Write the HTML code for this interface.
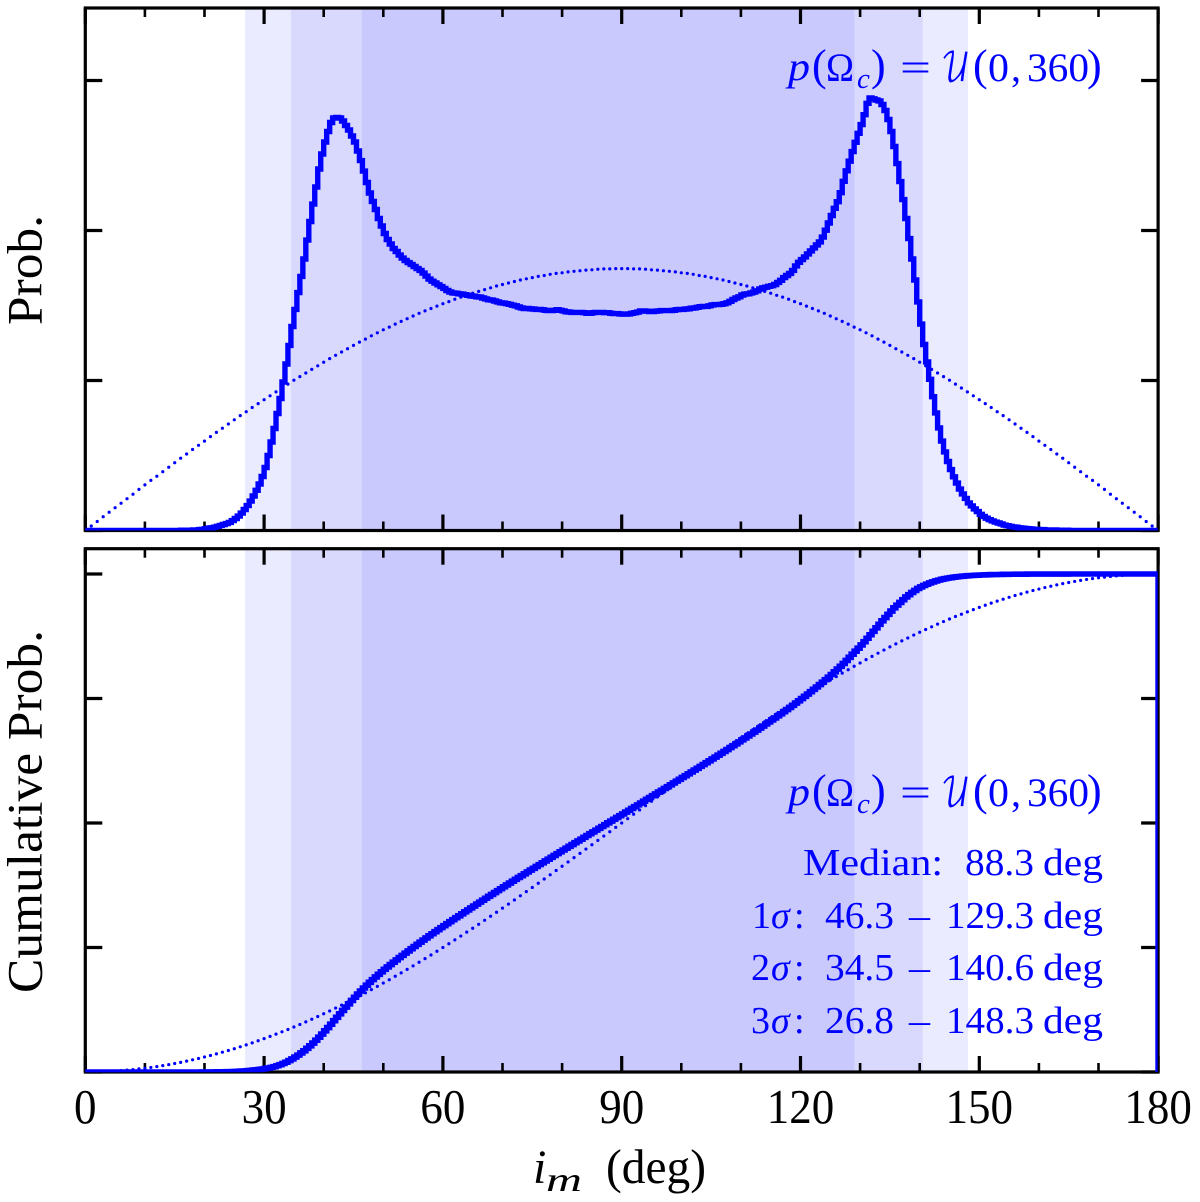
<!DOCTYPE html>
<html lang="en">
<head>
<meta charset="utf-8">
<title>Inclination probability chart</title>
<style>
html,body{margin:0;padding:0;background:#fff;}
svg{display:block;}
text{font-family:"Liberation Serif",serif;}
.t{fill:#000;}
.b{fill:#0000ff;}
.i{font-style:italic;}
.u{font-family:"DejaVu Math TeX Gyre","DejaVu Serif","Liberation Serif",serif;}
</style>
</head>
<body>
<svg id="chart" width="1200" height="1202" viewBox="0 0 1200 1202" xmlns="http://www.w3.org/2000/svg">
<defs>
<clipPath id="clipTop"><rect x="85.3" y="8" width="1072.4" height="522.5"/></clipPath>
<clipPath id="clipBottom"><rect x="85.3" y="548.7" width="1072.4" height="523.6"/></clipPath>
</defs>
<g id="bands"></g>
<g id="axes"></g>
<g id="dotsTop" clip-path="url(#clipTop)"></g>
<g id="dotsBottom" clip-path="url(#clipBottom)"></g>
<g id="curves"></g>
<g id="xLabels"></g>

<text class="t" transform="translate(41.7,325) rotate(-90)" font-size="50" textLength="110" lengthAdjust="spacingAndGlyphs">Prob.</text>
<text class="t" transform="translate(41.7,993) rotate(-90)" font-size="50" textLength="363" lengthAdjust="spacingAndGlyphs">Cumulative Prob.</text>

<g class="t">
<text class="t i" x="533" y="1183" font-size="48">i</text>
<text class="t i" x="546" y="1191" font-size="34" textLength="36" lengthAdjust="spacingAndGlyphs">m</text>
<text class="t" x="606" y="1183" font-size="49" textLength="100" lengthAdjust="spacingAndGlyphs">(deg)</text>
</g>

<g font-size="40">
<text class="b i" x="788" y="80" textLength="22" lengthAdjust="spacingAndGlyphs">p</text>
<text class="b" x="812" y="80" font-size="44">(</text>
<text class="b" x="826" y="81" textLength="28" lengthAdjust="spacingAndGlyphs">Ω</text>
<text class="b i" x="857" y="88" font-size="29">c</text>
<text class="b" x="871" y="80" font-size="44">)</text>
<text class="b" x="900" y="81" textLength="31" lengthAdjust="spacingAndGlyphs">=</text>
<text class="b u" x="941" y="81" textLength="29" lengthAdjust="spacingAndGlyphs">𝒰</text>
<text class="b" x="973" y="80" font-size="44">(</text>
<text class="b" x="988" y="81" textLength="21" lengthAdjust="spacingAndGlyphs">0</text>
<text class="b" x="1011" y="81">,</text>
<text class="b" x="1027" y="81" textLength="62" lengthAdjust="spacingAndGlyphs">360</text>
<text class="b" x="1087" y="80" font-size="44">)</text>
</g>

<g font-size="40">
<text class="b i" x="788" y="805" textLength="22" lengthAdjust="spacingAndGlyphs">p</text>
<text class="b" x="812" y="805" font-size="44">(</text>
<text class="b" x="826" y="806" textLength="28" lengthAdjust="spacingAndGlyphs">Ω</text>
<text class="b i" x="857" y="813" font-size="29">c</text>
<text class="b" x="871" y="805" font-size="44">)</text>
<text class="b" x="900" y="806" textLength="31" lengthAdjust="spacingAndGlyphs">=</text>
<text class="b u" x="941" y="806" textLength="29" lengthAdjust="spacingAndGlyphs">𝒰</text>
<text class="b" x="973" y="805" font-size="44">(</text>
<text class="b" x="988" y="806" textLength="21" lengthAdjust="spacingAndGlyphs">0</text>
<text class="b" x="1011" y="806">,</text>
<text class="b" x="1027" y="806" textLength="62" lengthAdjust="spacingAndGlyphs">360</text>
<text class="b" x="1087" y="805" font-size="44">)</text>
</g>

<g font-size="38">
<text class="b" x="803" y="875" textLength="140" lengthAdjust="spacingAndGlyphs">Median:</text>
<text class="b" x="965" y="875" textLength="69" lengthAdjust="spacingAndGlyphs">88.3</text>
<text class="b" x="1043" y="875" textLength="60" lengthAdjust="spacingAndGlyphs">deg</text>
</g>
<g font-size="38">
<text class="b" x="752" y="928">1</text>
<text class="b i" x="771" y="928">σ</text>
<text class="b" x="794" y="928">:</text>
<text class="b" x="825" y="928" textLength="69" lengthAdjust="spacingAndGlyphs">46.3</text>
<text class="b" x="909" y="928" textLength="21" lengthAdjust="spacingAndGlyphs">–</text>
<text class="b" x="946" y="928" textLength="88" lengthAdjust="spacingAndGlyphs">129.3</text>
<text class="b" x="1043" y="928" textLength="60" lengthAdjust="spacingAndGlyphs">deg</text>
</g>
<g font-size="38">
<text class="b" x="751" y="980">2</text>
<text class="b i" x="771" y="980">σ</text>
<text class="b" x="794" y="980">:</text>
<text class="b" x="825" y="980" textLength="69" lengthAdjust="spacingAndGlyphs">34.5</text>
<text class="b" x="909" y="980" textLength="21" lengthAdjust="spacingAndGlyphs">–</text>
<text class="b" x="946" y="980" textLength="88" lengthAdjust="spacingAndGlyphs">140.6</text>
<text class="b" x="1043" y="980" textLength="60" lengthAdjust="spacingAndGlyphs">deg</text>
</g>
<g font-size="38">
<text class="b" x="751" y="1033">3</text>
<text class="b i" x="771" y="1033">σ</text>
<text class="b" x="794" y="1033">:</text>
<text class="b" x="825" y="1033" textLength="69" lengthAdjust="spacingAndGlyphs">26.8</text>
<text class="b" x="909" y="1033" textLength="21" lengthAdjust="spacingAndGlyphs">–</text>
<text class="b" x="946" y="1033" textLength="88" lengthAdjust="spacingAndGlyphs">148.3</text>
<text class="b" x="1043" y="1033" textLength="60" lengthAdjust="spacingAndGlyphs">deg</text>
</g>
</svg>

<script>
// Data. Probability values are in units of 1e-3 per degree.
// Histograms use half-degree bins.
const xMajorTicks = [0, 30, 60, 90, 120, 150, 180];
const xMinorTicks = [10, 20, 40, 50, 70, 80, 100, 110, 130, 140, 160, 170];
const xTickLabels = ['0', '30', '60', '90', '120', '150', '180'];
const yTicksTop = [0, 5, 10, 15];
const yTicksBottom = [0, 0.25, 0.5, 0.75, 1];
const sigmaLow = [26.8, 34.5, 46.4];
const sigmaHigh = [148.1, 140.5, 129.05];

const pdfHist = [
0,0, 0,0, 0,0, 0,0, 0,0, 0,0, 0,0, 0,0, 0,0, 0,0,
0,0, 0,0, 0,0, 0,0, 0,0, 0,0, .01,.01, .01,.01, .02,.02, .03,.04,
.06,.08, .09,.11, .14,.17, .20,.23, .27,.33, .40,.48, .58,.70, .83,.98, 1.15,1.34, 1.55,1.80,
2.10,2.50, 2.95,3.40, 3.90,4.40, 4.95,5.55, 6.17,6.80, 7.37,7.93, 8.47,9.05, 9.68,10.30, 10.88,11.45, 12.05,12.55,
12.95,13.30, 13.60,13.75, 13.77,13.75, 13.65,13.50, 13.35,13.15, 12.95,12.65, 12.33,11.98, 11.60,11.25, 10.97,10.70, 10.40,10.15,
9.90,9.70, 9.55,9.40, 9.30,9.18, 9.08,9.00, 8.93,8.87, 8.80,8.73, 8.67,8.58, 8.48,8.38, 8.31,8.25, 8.19,8.13,
8.07,8.00, 7.95,7.92, 7.91,7.89, 7.88,7.86, 7.84,7.82, 7.81,7.79, 7.78,7.75, 7.72,7.69, 7.68,7.65, 7.62,7.59,
7.58,7.56, 7.54,7.51, 7.49,7.45, 7.42,7.40, 7.40,7.39, 7.38,7.37, 7.37,7.36, 7.34,7.33, 7.33,7.34, 7.36,7.34,
7.32,7.29, 7.28,7.27, 7.27,7.27, 7.27,7.26, 7.24,7.24, 7.26,7.27, 7.27,7.27, 7.26,7.26, 7.24,7.23, 7.23,7.22,
7.21,7.21, 7.22,7.24, 7.26,7.28, 7.32,7.32, 7.31,7.30, 7.30,7.31, 7.32,7.33, 7.33,7.33, 7.33,7.34, 7.36,7.37,
7.37,7.38, 7.39,7.41, 7.42,7.44, 7.46,7.47, 7.47,7.49, 7.52,7.53, 7.53,7.54, 7.56,7.59, 7.64,7.70, 7.75,7.79,
7.85,7.88, 7.89,7.92, 7.95,7.99, 8.05,8.09, 8.11,8.14, 8.16,8.20, 8.27,8.34, 8.43,8.50, 8.57,8.67, 8.82,8.94,
9.03,9.12, 9.22,9.32, 9.42,9.52, 9.62,9.78, 10.01,10.25, 10.50,10.74, 10.96,11.26, 11.64,11.99, 12.31,12.63, 12.94,13.24,
13.53,13.86, 14.24,14.42, 14.39,14.35, 14.32,14.20, 14.00,13.70, 13.30,12.80, 12.23,11.63, 11.03,10.40, 9.73,9.05, 8.35,7.62,
6.88,6.20, 5.62,5.04, 4.46,3.92, 3.42,2.98, 2.62,2.30, 2.03,1.79, 1.58,1.38, 1.22,1.07, .92,.82, .72,.63,
.54,.47, .41,.36, .32,.28, .25,.22, .18,.16, .14,.12, .11,.09, .08,.07, .06,.05, .04,.04,
.03,.03, .02,.02, .02,.02, .01,.01, .01,.01, 0,0, 0,0, 0,0, 0,0, 0,0,
0,0, 0,0, 0,0, 0,0, 0,0, 0,0, 0,0, 0,0, 0,0, 0,0
];

const cdfHist = [
0,0, 0,0, 0,0, 0,0, 0,0, 0,0, 0,0, 0,0, 0,0, 0,0,
0,0, 0,0, 0,0, 0,0, 0,0, 0,0, 0,0, 0,0, 0,0, 0,.0001,
.0001,.0001, .0001,.0002, .0003,.0004, .0005,.0006, .0007,.0009, .0011,.0014, .0018,.0022, .0027,.0032, .0038,.0044, .0051,.0059,
.0069,.0079, .0093,.0107, .0126,.0146, .0171,.0197, .0229,.0262, .0300,.0339, .0382,.0426, .0476,.0526, .0582,.0638, .0699,.0761,
.0827,.0893, .0961,.1030, .1099,.1168, .1236,.1304, .1370,.1437, .1501,.1565, .1626,.1687, .1744,.1801, .1855,.1909, .1961,.2012,
.2061,.2110, .2158,.2205, .2251,.2297, .2342,.2387, .2432,.2476, .2520,.2564, .2607,.2650, .2692,.2734, .2776,.2817, .2858,.2899,
.2939,.2979, .3019,.3058, .3098,.3137, .3177,.3216, .3255,.3294, .3333,.3372, .3411,.3450, .3489,.3527, .3566,.3604, .3642,.3680,
.3718,.3756, .3794,.3831, .3869,.3906, .3943,.3980, .4017,.4054, .4091,.4127, .4164,.4201, .4238,.4274, .4311,.4348, .4385,.4421,
.4458,.4494, .4531,.4567, .4604,.4640, .4676,.4712, .4749,.4785, .4821,.4857, .4894,.4930, .4967,.5003, .5039,.5075, .5111,.5147,
.5183,.5219, .5255,.5292, .5328,.5364, .5401,.5438, .5475,.5511, .5548,.5584, .5621,.5657, .5694,.5730, .5767,.5804, .5841,.5877,
.5914,.5951, .5988,.6025, .6062,.6099, .6137,.6174, .6212,.6249, .6287,.6324, .6362,.6399, .6437,.6475, .6514,.6552, .6591,.6629,
.6669,.6708, .6748,.6787, .6827,.6867, .6907,.6947, .6988,.7029, .7070,.7110, .7152,.7193, .7236,.7278, .7321,.7364, .7409,.7453,
.7499,.7544, .7590,.7636, .7684,.7731, .7780,.7828, .7879,.7929, .7982,.8035, .8091,.8146, .8205,.8264, .8327,.8389, .8450,.8510,
.8575,.8640, .8710,.8780, .8850,.8920, .8990,.9060, .9125,.9190, .9255,.9320, .9375,.9430, .9485,.9540, .9585,.9630, .9670,.9710,
.9740,.9770, .9795,.9820, .9840,.9860, .9877,.9893, .9905,.9917, .9927,.9936, .9943,.9950, .9956,.9961, .9966,.9970, .9974,.9977,
.9980,.9982, .9984,.9986, .9988,.9989, .9990,.9992, .9993,.9994, .9995,.9995, .9996,.9996, .9997,.9997, .9998,.9998, .9998,.9998,
.9999,.9999, .9999,.9999, .9999,.9999, .9999,.9999, .9999,.9999, 1,1, 1,1, 1,1, 1,1, 1,1,
1,1, 1,1, 1,1, 1,1, 1,1, 1,1, 1,1, 1,1, 1,1, 1,1
];

const pdfIsotropic = [
0,0.15,0.30,0.46,0.61,0.76,0.91,1.06,1.21,1.37,1.52,1.67,1.81,1.96,2.11,2.26,2.41,2.55,2.70,2.84,
2.98,3.13,3.27,3.41,3.55,3.69,3.83,3.96,4.10,4.23,4.36,4.49,4.62,4.75,4.88,5.01,5.13,5.25,5.37,5.49,
5.61,5.73,5.84,5.95,6.06,6.17,6.28,6.38,6.49,6.59,6.69,6.78,6.88,6.97,7.06,7.15,7.24,7.32,7.40,7.48,
7.56,7.63,7.71,7.78,7.84,7.91,7.97,8.03,8.09,8.15,8.20,8.25,8.30,8.35,8.39,8.43,8.47,8.50,8.54,8.57,
8.59,8.62,8.64,8.66,8.68,8.69,8.71,8.72,8.72,8.73,8.73,8.73,8.72,8.72,8.71,8.69,8.68,8.66,8.64,8.62,
8.59,8.57,8.54,8.50,8.47,8.43,8.39,8.35,8.30,8.25,8.20,8.15,8.09,8.03,7.97,7.91,7.84,7.78,7.71,7.63,
7.56,7.48,7.40,7.32,7.24,7.15,7.06,6.97,6.88,6.78,6.69,6.59,6.49,6.38,6.28,6.17,6.06,5.95,5.84,5.73,
5.61,5.49,5.37,5.25,5.13,5.01,4.88,4.75,4.62,4.49,4.36,4.23,4.10,3.96,3.83,3.69,3.55,3.41,3.27,3.13,
2.98,2.84,2.70,2.55,2.41,2.26,2.11,1.96,1.81,1.67,1.52,1.37,1.21,1.06,0.91,0.76,0.61,0.46,0.30,0.15,0
];

const cdfIsotropic = [
0,0.0001,0.0003,0.0007,0.0012,0.0019,0.0027,0.0037,0.0049,0.0062,0.0076,0.0092,0.0109,0.0128,0.0149,0.0170,0.0194,0.0218,0.0245,0.0272,
0.0302,0.0332,0.0364,0.0398,0.0432,0.0468,0.0506,0.0545,0.0585,0.0627,0.0670,0.0715,0.0760,0.0807,0.0854,0.0904,0.0955,0.1007,0.1060,0.1114,
0.1170,0.1226,0.1284,0.1343,0.1403,0.1464,0.1527,0.1590,0.1654,0.1719,0.1786,0.1853,0.1922,0.1991,0.2061,0.2132,0.2204,0.2277,0.2350,0.2425,
0.2500,0.2576,0.2653,0.2730,0.2808,0.2887,0.2966,0.3046,0.3127,0.3208,0.3290,0.3372,0.3455,0.3538,0.3622,0.3706,0.3790,0.3875,0.3960,0.4046,
0.4132,0.4218,0.4304,0.4391,0.4477,0.4564,0.4651,0.4738,0.4825,0.4913,0.5000,0.5087,0.5175,0.5262,0.5349,0.5436,0.5523,0.5609,0.5696,0.5782,
0.5868,0.5954,0.6040,0.6125,0.6210,0.6294,0.6378,0.6462,0.6545,0.6628,0.6710,0.6792,0.6873,0.6954,0.7034,0.7113,0.7192,0.7270,0.7347,0.7424,
0.7500,0.7575,0.7650,0.7723,0.7796,0.7868,0.7939,0.8009,0.8078,0.8147,0.8214,0.8281,0.8346,0.8410,0.8473,0.8536,0.8597,0.8657,0.8716,0.8774,
0.8830,0.8886,0.8940,0.8993,0.9045,0.9096,0.9146,0.9193,0.9240,0.9285,0.9330,0.9373,0.9415,0.9455,0.9494,0.9532,0.9568,0.9602,0.9636,0.9668,
0.9698,0.9728,0.9755,0.9782,0.9806,0.9830,0.9851,0.9872,0.9891,0.9908,0.9924,0.9938,0.9951,0.9963,0.9973,0.9981,0.9988,0.9993,0.9997,0.9999,1
];

const NS = 'http://www.w3.org/2000/svg';
const X0 = 85.3, XSCALE = 5.96;
const TOP_T = 8, TOP_B = 530.5, BOT_T = 548.7, BOT_B = 1072;
const X1 = X0 + 180 * XSCALE;
function xPos(deg) { return X0 + deg * XSCALE; }
function yTop(v) { return TOP_B - v * 30; }
function yBottom(v) { return BOT_B - v * 498; }
function make(tag, attrs) {
  const el = document.createElementNS(NS, tag);
  for (const k in attrs) el.setAttribute(k, attrs[k]);
  return el;
}

const bandColors = ['#ebebff', '#d9d9fe', '#c9c9fd'];
const bandsGroup = document.getElementById('bands');
const panels = [[TOP_T, TOP_B], [BOT_T, BOT_B]];
panels.forEach(function (panel) {
  sigmaLow.forEach(function (lo, i) {
    const el = make('rect', { x: xPos(lo), y: panel[0], width: xPos(sigmaHigh[i]) - xPos(lo), height: panel[1] - panel[0], fill: bandColors[i] });
    
    
    bandsGroup.appendChild(el);
  });
});

const axesGroup = document.getElementById('axes');
function xTick(deg, len, w, panel) {
  const x = xPos(deg);
  const a = make('line', { x1: x, x2: x, y1: panel[0], y2: panel[0] + len, stroke: '#000', 'stroke-width': w });
  
  
  axesGroup.appendChild(a);
  const b = make('line', { x1: x, x2: x, y1: panel[1], y2: panel[1] - len, stroke: '#000', 'stroke-width': w });
  
  
  axesGroup.appendChild(b);
}
function yTick(y) {
  const a = make('line', { x1: X0, x2: X0 + 17, y1: y, y2: y, stroke: '#000', 'stroke-width': 3.2 });
  
  
  axesGroup.appendChild(a);
  const b = make('line', { x1: X1, x2: X1 - 17, y1: y, y2: y, stroke: '#000', 'stroke-width': 3.2 });
  
  
  axesGroup.appendChild(b);
}
panels.forEach(function (panel) {
  xMajorTicks.forEach(function (d) { xTick(d, 16, 3.2, panel); });
  xMinorTicks.forEach(function (d) { xTick(d, 9, 2.6, panel); });
});
yTicksTop.forEach(function (v) { yTick(yTop(v)); });
yTicksBottom.forEach(function (v) { yTick(yBottom(v)); });
panels.forEach(function (panel) {
  const el = make('rect', { x: X0, y: panel[0], width: X1 - X0, height: panel[1] - panel[0], fill: 'none', stroke: '#000', 'stroke-width': 3.2 });
  
  
  axesGroup.appendChild(el);
});

const dotsTop = document.getElementById('dotsTop');
pdfIsotropic.forEach(function (v, i) {
  const el = make('circle', { cx: xPos(i), cy: yTop(v), r: 1.6, fill: '#0000ff' });
  
  
  dotsTop.appendChild(el);
});
const dotsBottom = document.getElementById('dotsBottom');
cdfIsotropic.forEach(function (v, i) {
  const el = make('circle', { cx: xPos(i), cy: yBottom(v), r: 1.6, fill: '#0000ff' });
  
  
  dotsBottom.appendChild(el);
});

function stepPath(values, yFn) {
  const w = 180 / values.length;
  let d = 'M' + xPos(0) + ' ' + yFn(0);
  values.forEach(function (v, i) {
    d += 'L' + xPos(i * w).toFixed(2) + ' ' + yFn(v).toFixed(2) + 'L' + xPos((i + 1) * w).toFixed(2) + ' ' + yFn(v).toFixed(2);
  });
  d += 'L' + xPos(180) + ' ' + yFn(0);
  return d;
}
const curvesGroup = document.getElementById('curves');
const pdfLine = make('path', { d: stepPath(pdfHist, yTop), fill: 'none', stroke: '#0000ff', 'stroke-width': 5.4, 'stroke-linejoin': 'miter', 'clip-path': 'url(#clipTop)' });


curvesGroup.appendChild(pdfLine);
const cdfLine = make('path', { d: stepPath(cdfHist, yBottom), fill: 'none', stroke: '#0000ff', 'stroke-width': 5.6, 'stroke-linejoin': 'miter', 'clip-path': 'url(#clipBottom)' });


curvesGroup.appendChild(cdfLine);

const xLabelGroup = document.getElementById('xLabels');
xMajorTicks.forEach(function (d, i) {
  const el = make('text', { x: xPos(d), y: 1123, 'text-anchor': 'middle', 'font-size': 49, class: 't', textLength: xTickLabels[i].length * 22.5, lengthAdjust: 'spacingAndGlyphs' });
  
  
  el.textContent = xTickLabels[i];
  xLabelGroup.appendChild(el);
});
</script>
</body>
</html>
